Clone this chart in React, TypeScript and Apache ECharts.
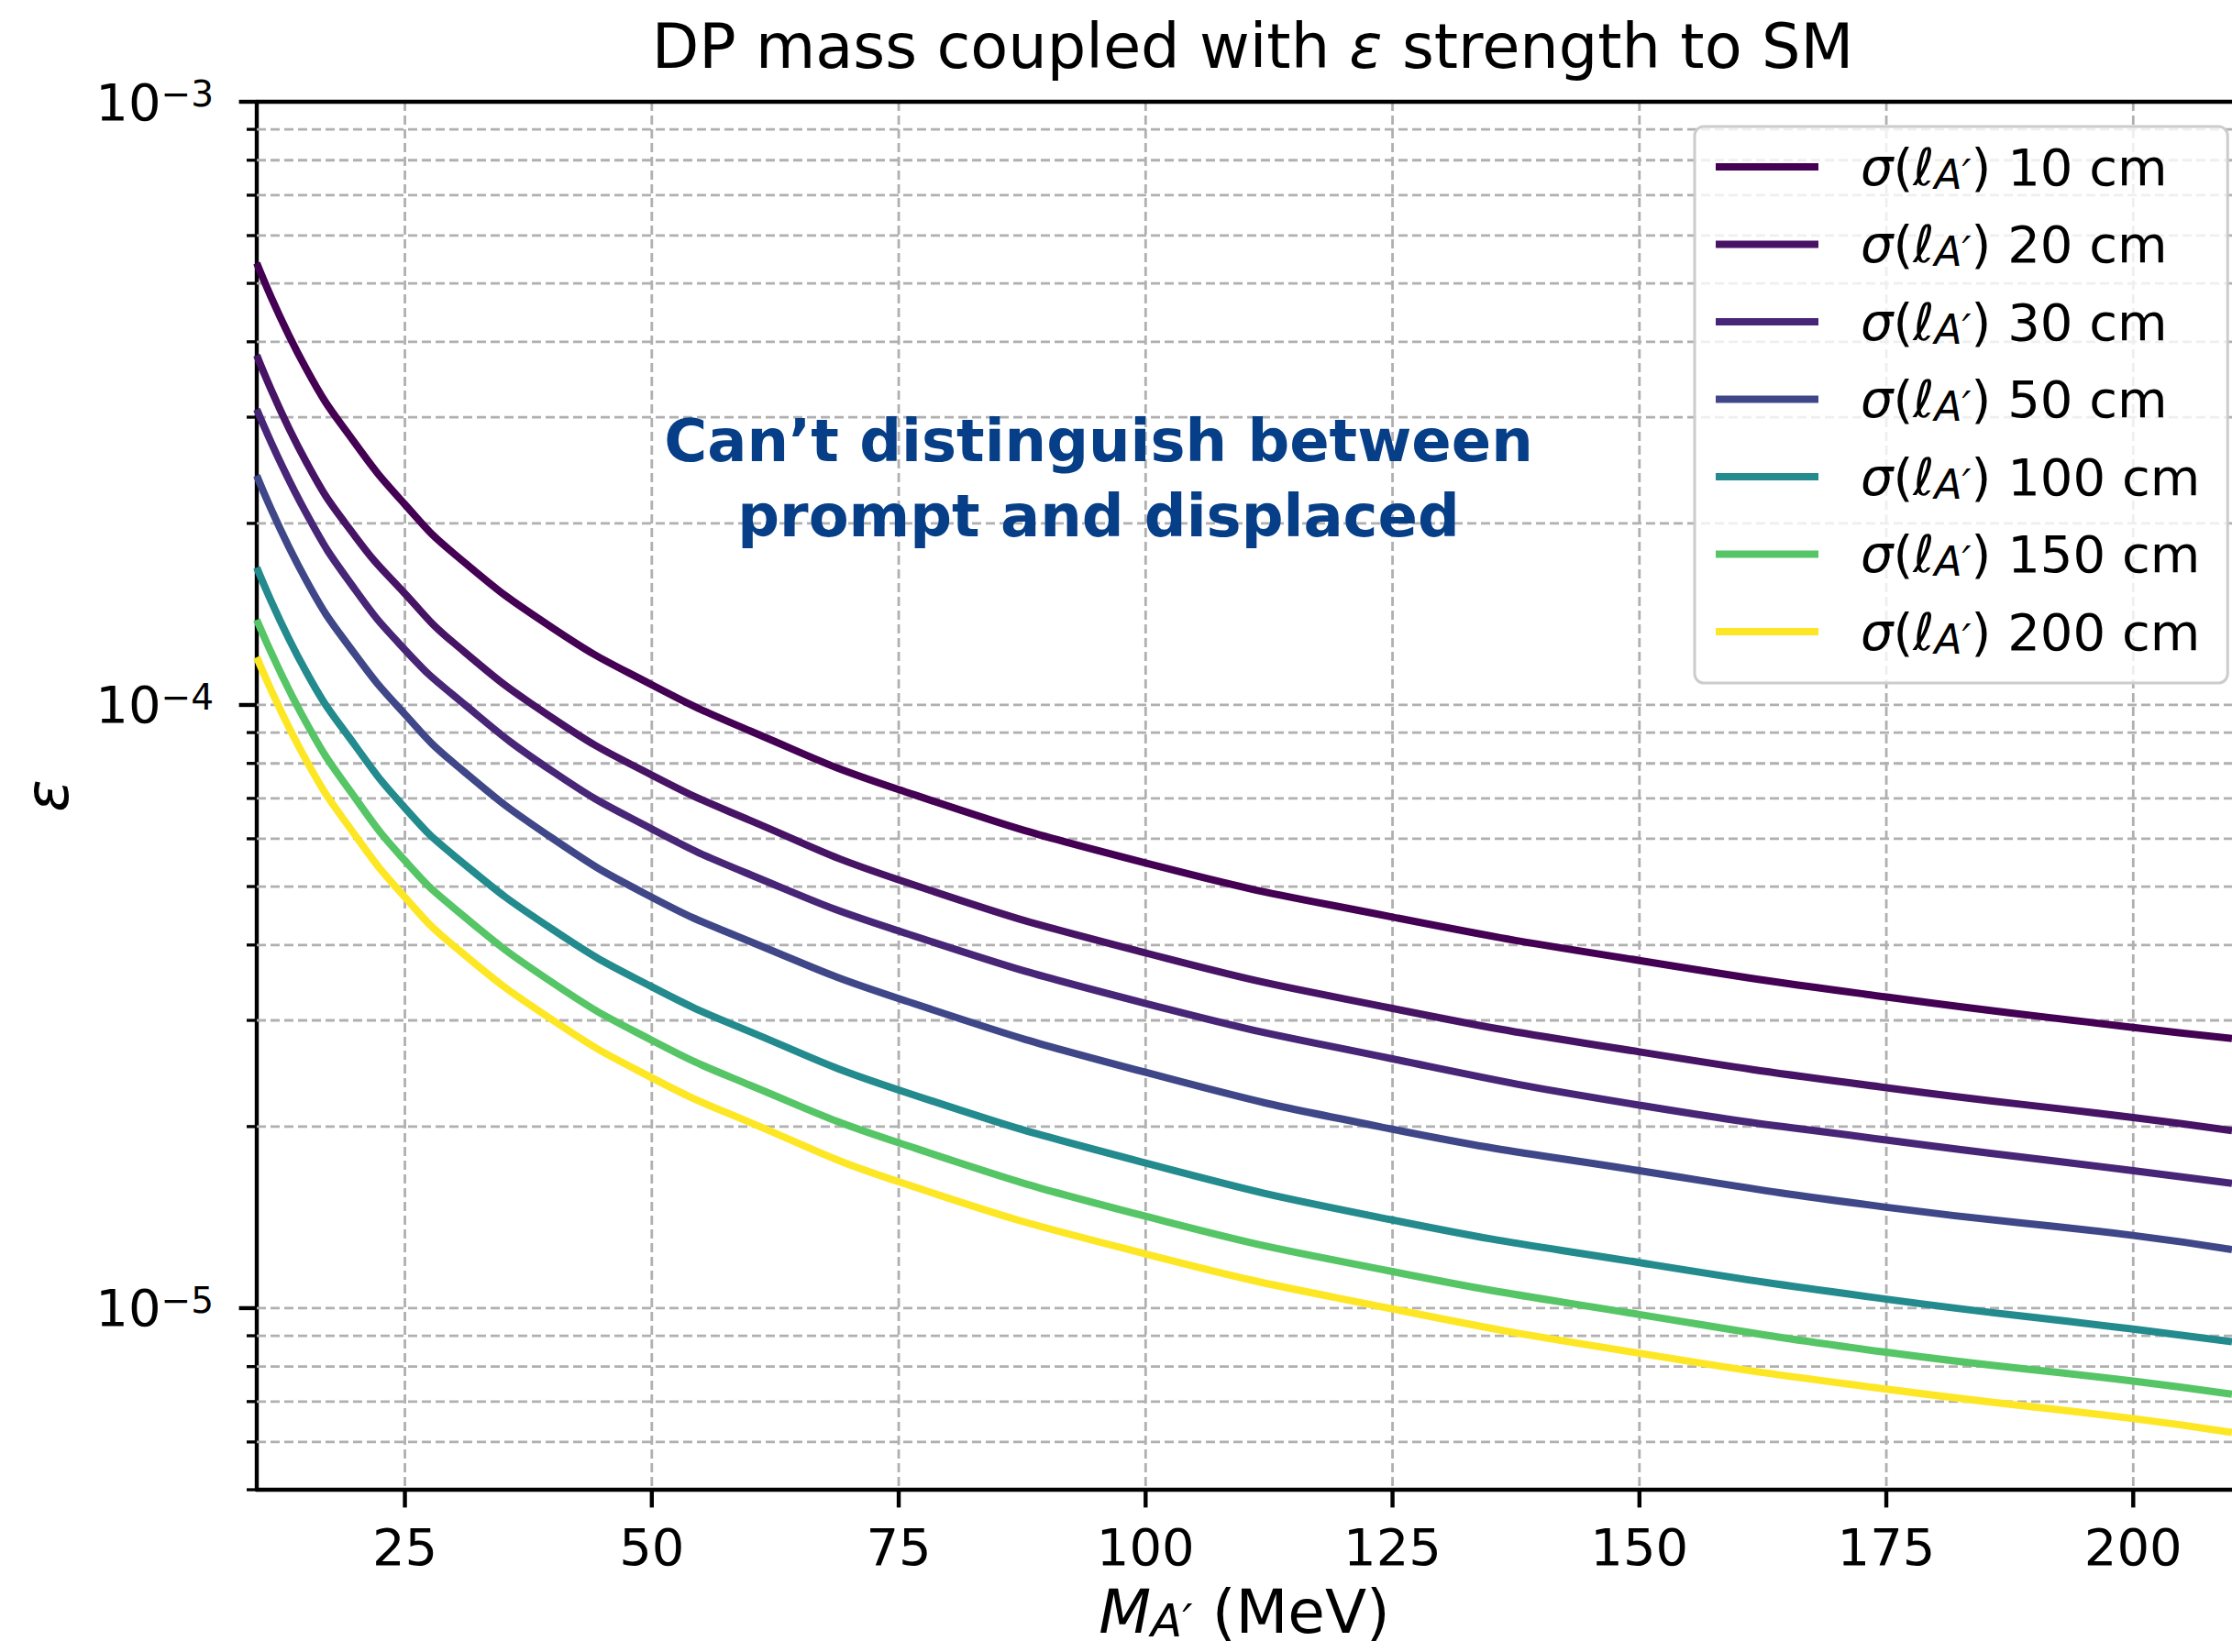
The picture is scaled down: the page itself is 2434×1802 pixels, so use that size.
import React, { useEffect, useRef } from "react";
import * as echarts from "echarts";

// ---- data ----
const masses = [10, 15, 20, 25, 30, 40, 50, 60, 75, 100, 125, 150, 175, 200, 210];
const eps10cm = [5.4e-4, 3.61e-4, 2.71e-4, 2.15e-4, 1.78e-4, 1.34e-4, 1.08e-4, 9.05e-5, 7.24e-5, 5.47e-5, 4.45e-5, 3.77e-5, 3.28e-5, 2.92e-5, 2.8e-5];
const eps20cm = [3.8e-4, 2.53e-4, 1.9e-4, 1.53e-4, 1.265e-4, 9.5e-5, 7.65e-5, 6.43e-5, 5.13e-5, 3.88e-5, 3.14e-5, 2.66e-5, 2.32e-5, 2.07e-5, 1.97e-5];
const eps30cm = [3.09e-4, 2.08e-4, 1.55e-4, 1.235e-4, 1.035e-4, 7.75e-5, 6.23e-5, 5.23e-5, 4.22e-5, 3.2e-5, 2.59e-5, 2.17e-5, 1.9e-5, 1.69e-5, 1.61e-5];
const eps50cm = [2.4e-4, 1.61e-4, 1.21e-4, 9.65e-5, 8.0e-5, 6.0e-5, 4.8e-5, 4.05e-5, 3.26e-5, 2.46e-5, 1.98e-5, 1.69e-5, 1.47e-5, 1.32e-5, 1.25e-5];
const eps100cm = [1.69e-4, 1.135e-4, 8.55e-5, 6.75e-5, 5.62e-5, 4.24e-5, 3.41e-5, 2.87e-5, 2.3e-5, 1.74e-5, 1.4e-5, 1.19e-5, 1.035e-5, 9.23e-6, 8.8e-6];
const eps150cm = [1.385e-4, 9.35e-5, 7.0e-5, 5.52e-5, 4.6e-5, 3.46e-5, 2.78e-5, 2.34e-5, 1.88e-5, 1.42e-5, 1.15e-5, 9.76e-6, 8.45e-6, 7.57e-6, 7.2e-6];
const eps200cm = [1.2e-4, 8.1e-5, 6.07e-5, 4.8e-5, 3.98e-5, 3.0e-5, 2.41e-5, 2.03e-5, 1.62e-5, 1.23e-5, 9.97e-6, 8.42e-6, 7.34e-6, 6.56e-6, 6.22e-6];

const resolutions = ["10", "20", "30", "50", "100", "150", "200"];
const seriesValues = [eps10cm, eps20cm, eps30cm, eps50cm, eps100cm, eps150cm, eps200cm];
const seriesNames = resolutions.map((r) => `σ(ℓA′) ${r} cm`);
const seriesColors = ["#440154", "#471365", "#482677", "#3f4788", "#238a8d", "#56c566", "#fde725"];

const xTicks = [25, 50, 75, 100, 125, 150, 175, 200];
const yMajorTicks = [1e-5, 1e-4, 1e-3];
const yMinorTicks = [
  5e-6, 6e-6, 7e-6, 8e-6, 9e-6,
  2e-5, 3e-5, 4e-5, 5e-5, 6e-5, 7e-5, 8e-5, 9e-5,
  2e-4, 3e-4, 4e-4, 5e-4, 6e-4, 7e-4, 8e-4, 9e-4,
];
const xMin = 10;
const xMax = 210;
const yMin = 5e-6;
const yMax = 1e-3;

const titleText = "{n|DP mass coupled with }{i|ε}{n| strength to SM}";
const annotationLines = ["Can’t distinguish between", "prompt and displaced"];

const FONT = "DejaVu Sans";

function renderFrame(params: any, api: any) {
  const tl = api.coord([xMin, yMax]);
  const br = api.coord([xMax, yMin]);
  const x0 = tl[0];
  const yTop = tl[1];
  const x1 = br[0];
  const yBot = br[1];
  const children: any[] = [];
  const dash = () => ({ stroke: "#b0b0b0", lineWidth: 2.8, lineDash: [10, 5], fill: null });
  const solid = (w: number) => ({ stroke: "#000000", lineWidth: w, fill: null });
  const all = yMinorTicks.concat(yMajorTicks);
  for (const v of all) {
    const y = api.coord([xMin, v])[1];
    if (v > yMin) {
      children.push({ type: "line", shape: { x1: x0, y1: y, x2: x1, y2: y }, style: dash() });
    }
  }
  for (const t of xTicks) {
    const x = api.coord([t, yMin])[0];
    children.push({ type: "line", shape: { x1: x, y1: yTop, x2: x, y2: yBot }, style: dash() });
    children.push({ type: "line", shape: { x1: x, y1: yBot, x2: x, y2: yBot + 19.4 }, style: solid(4.4) });
  }
  for (const v of yMinorTicks) {
    const y = api.coord([xMin, v])[1];
    children.push({ type: "line", shape: { x1: x0 - 11, y1: y, x2: x0, y2: y }, style: solid(3.3) });
  }
  for (const v of yMajorTicks) {
    const y = api.coord([xMin, v])[1];
    children.push({ type: "line", shape: { x1: x0 - 19.4, y1: y, x2: x0, y2: y }, style: solid(4.4) });
  }
  children.push({ type: "line", shape: { x1: x0, y1: yTop, x2: x1, y2: yTop }, style: solid(4.4) });
  return { type: "group", children };
}

function legendLabel(name: string) {
  const num = name.replace("σ(ℓA′) ", "");
  return `{gap| }{i|σ}{n|(}{i|ℓ}{sub|A′}{n|) ${num}}`;
}

export default function App() {
  const ref = useRef<HTMLDivElement>(null);
  useEffect(() => {
    if (!ref.current) return;
    const chart = echarts.init(ref.current, undefined, { renderer: "svg" });
    const lineSeries = seriesNames.map((name, i) => ({
      name,
      type: "line",
      data: masses.map((m, j) => [m, seriesValues[i][j]]),
      showSymbol: false,
      symbol: "none",
      smooth: 0.5,
      lineStyle: { color: seriesColors[i], width: 8 },
      itemStyle: { color: seriesColors[i] },
      z: 3,
    }));
    const annotationStyle = {
      align: "center",
      verticalAlign: "middle",
      fill: "#063f87",
      fontFamily: "DejaVu Sans",
      fontWeight: "bold",
      fontSize: 64,
    };
    const option: any = {
      animation: false,
      backgroundColor: "#ffffff",
      textStyle: { fontFamily: FONT },
      grid: { left: 280, top: 111, right: -15.5, bottom: 177, containLabel: false },
      xAxis: {
        type: "value",
        min: xMin,
        max: xMax,
        name: "{i|M}{sub|A′}{n| (MeV)}",
        nameLocation: "middle",
        nameGap: 98,
        nameTextStyle: {
          fontFamily: FONT,
          color: "#000",
          fontSize: 66,
          rich: {
            i: { fontFamily: FONT, fontSize: 66, fontStyle: "italic", lineHeight: 70, color: "#000" },
            n: { fontFamily: FONT, fontSize: 66, lineHeight: 70, color: "#000" },
            sub: { fontFamily: FONT, fontSize: 50, fontStyle: "italic", lineHeight: 36, verticalAlign: "bottom", color: "#000" },
          },
        },
        axisLine: { onZero: false, lineStyle: { color: "#000", width: 4.4 } },
        axisTick: { show: false },
        splitLine: { show: false },
        axisLabel: {
          customValues: xTicks,
          margin: 34,
          fontSize: 56,
          fontFamily: FONT,
          color: "#000",
        },
      },
      yAxis: {
        type: "log",
        logBase: 10,
        min: yMin,
        max: yMax,
        name: "ε",
        nameLocation: "middle",
        nameGap: 196,
        nameTextStyle: { fontFamily: FONT, fontSize: 66, fontStyle: "italic", color: "#000" },
        axisLine: { onZero: false, lineStyle: { color: "#000", width: 4.4 } },
        axisTick: { show: false },
        minorTick: { show: false },
        splitLine: { show: false },
        axisLabel: {
          margin: 47,
          color: "#000",
          fontFamily: FONT,
          formatter: (v: number) => {
            const lv = Math.log10(v);
            const e = Math.round(lv);
            if (Math.abs(lv - e) > 1e-6) return "";
            return `{b|10}{s|−${Math.abs(e)}}`;
          },
          rich: {
            b: { fontFamily: FONT, fontSize: 56, lineHeight: 56, padding: [6, 0, 0, 0], verticalAlign: "bottom", color: "#000" },
            s: { fontFamily: FONT, fontSize: 39, lineHeight: 39, verticalAlign: "top", color: "#000" },
          },
        },
      },
      legend: {
        data: seriesNames,
        orient: "vertical",
        left: 1848,
        top: 138,
        padding: [16, 30, 26, 23],
        itemGap: 26.5,
        itemWidth: 112,
        itemHeight: 8,
        icon: "rect",
        selectedMode: false,
        backgroundColor: "rgba(255,255,255,0.8)",
        borderColor: "#cccccc",
        borderWidth: 3,
        borderRadius: 10,
        formatter: legendLabel,
        textStyle: {
          color: "#000",
          fontFamily: FONT,
          fontSize: 56,
          rich: {
            gap: { width: 41, fontSize: 56, lineHeight: 60 },
            i: { fontFamily: FONT, fontSize: 56, fontStyle: "italic", lineHeight: 60, color: "#000" },
            n: { fontFamily: FONT, fontSize: 56, lineHeight: 60, color: "#000" },
            sub: { fontFamily: FONT, fontSize: 44, fontStyle: "italic", lineHeight: 30, verticalAlign: "bottom", color: "#000" },
          },
        },
      },
      graphic: [
        {
          type: "text",
          x: 1366,
          y: 51,
          style: {
            text: titleText,
            align: "center",
            verticalAlign: "middle",
            fill: "#000",
            rich: {
              n: { fontFamily: FONT, fontSize: 67, fill: "#000" },
              i: { fontFamily: FONT, fontSize: 67, fontStyle: "italic", fill: "#000" },
            },
          },
        },
        {
          type: "text",
          x: 1198,
          y: 481,
          z: 10,
          style: { ...annotationStyle, text: annotationLines[0] },
        },
        {
          type: "text",
          x: 1198,
          y: 563,
          z: 10,
          style: { ...annotationStyle, text: annotationLines[1] },
        },
      ],
      series: [
        {
          type: "custom",
          renderItem: renderFrame,
          data: [[xMin, 1e-4]],
          silent: true,
          clip: false,
          z: 1,
        },
        ...lineSeries,
      ],
    };
    chart.setOption(option);
    return () => chart.dispose();
  }, []);
  return (
    <div
      ref={ref}
      style={{ position: "fixed", left: 0, top: 0, width: 2434, height: 1802, background: "#fff" }}
    />
  );
}
